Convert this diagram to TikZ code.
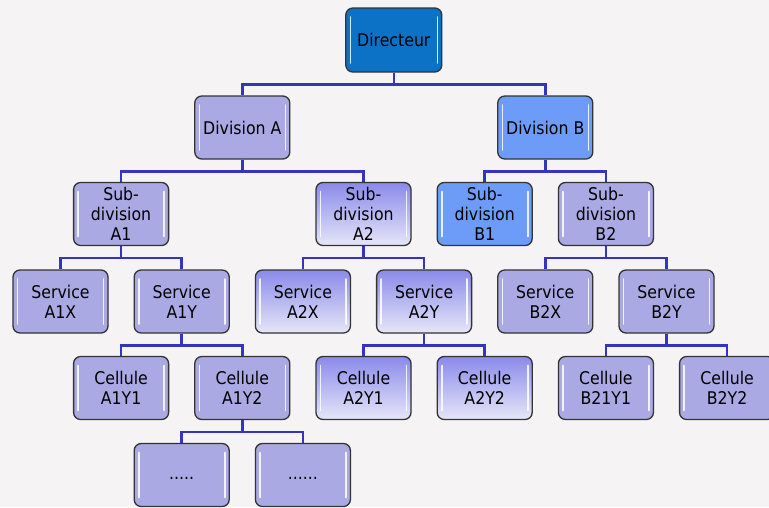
\documentclass[tikz,border=0pt]{standalone}
\usepackage{fontspec}
\setmainfont{DejaVu Sans Condensed}
\definecolor{bg}{HTML}{F5F3F3}
\definecolor{lav}{HTML}{ABA9E3}
\definecolor{dirblue}{HTML}{0B72C6}
\definecolor{lightblue}{HTML}{6C9CF8}
\definecolor{wire}{HTML}{3434BE}
\definecolor{rim}{HTML}{333333}
\definecolor{gradtop}{HTML}{8A8AEA}
\definecolor{gradbot}{HTML}{E6E6F8}
\tikzset{
  box/.style={draw=rim, line width=1.3pt, rounded corners=7pt,
    minimum width=95pt, minimum height=63pt, inner sep=0pt, align=center,
    font=\fontsize{17.5}{20}\selectfont, fill=lav,
    path picture={
      \draw[white, line width=1.6pt, opacity=.85, line cap=round]
        ([xshift=4.5pt,yshift=-9pt]path picture bounding box.north west) --
        ([xshift=4.5pt,yshift=9pt]path picture bounding box.south west);
      \draw[white, line width=1.6pt, opacity=.85, line cap=round]
        ([xshift=-4.5pt,yshift=-9pt]path picture bounding box.north east) --
        ([xshift=-4.5pt,yshift=9pt]path picture bounding box.south east);
    }},
  gradbox/.style={box, top color=gradtop, bottom color=gradbot},
  bluebox/.style={box, fill=lightblue},
  dirbox/.style={box, fill=dirblue, minimum width=96pt, minimum height=64pt},
  wirestyle/.style={draw=wire, line width=2.6pt},
}
\begin{document}
\begin{tikzpicture}[x=1pt,y=-1pt]
\useasboundingbox (0,0) rectangle (769,507);
\clip (0,0) rectangle (769,507);
\fill[bg] (0,0) rectangle (769,507);
% level 0
\node[dirbox] (dir) at (393.8,40) {Directeur};
% level 1
\node[box] (divA) at (242.3,127.5) {Division A};
\node[bluebox] (divB) at (545.3,127.5) {Division B};
% level 2
\node[box] (sA1) at (121.1,214) {Sub-\\division\\A1};
\node[gradbox] (sA2) at (363.5,214) {Sub-\\division\\A2};
\node[bluebox] (sB1) at (484.7,214) {Sub-\\division\\B1};
\node[box] (sB2) at (605.9,214) {Sub-\\division\\B2};
% level 3
\node[box] (vA1X) at (60.5,301.5) {Service\\A1X};
\node[box] (vA1Y) at (181.7,301.5) {Service\\A1Y};
\node[gradbox] (vA2X) at (302.9,301.5) {Service\\A2X};
\node[gradbox] (vA2Y) at (424.1,301.5) {Service\\A2Y};
\node[box] (vB2X) at (545.3,301.5) {Service\\B2X};
\node[box] (vB2Y) at (666.5,301.5) {Service\\B2Y};
% level 4
\node[box] (cA1Y1) at (121.1,388) {Cellule\\A1Y1};
\node[box] (cA1Y2) at (242.3,388) {Cellule\\A1Y2};
\node[gradbox] (cA2Y1) at (363.5,388) {Cellule\\A2Y1};
\node[gradbox] (cA2Y2) at (484.7,388) {Cellule\\A2Y2};
\node[box] (cB2Y1) at (605.9,388) {Cellule\\B21Y1};
\node[box] (cB2Y2) at (727.1,388) {Cellule\\B2Y2};
% level 5
\node[box] (d1) at (181.7,475) {\strut.....};
\node[box] (d2) at (302.9,475) {\strut......};
% connectors
\foreach \p/\c in {dir/divA, dir/divB,
  divA/sA1, divA/sA2, divB/sB1, divB/sB2,
  sA1/vA1X, sA1/vA1Y, sA2/vA2X, sA2/vA2Y, sB2/vB2X, sB2/vB2Y,
  vA1Y/cA1Y1, vA1Y/cA1Y2, vA2Y/cA2Y1, vA2Y/cA2Y2, vB2Y/cB2Y1, vB2Y/cB2Y2,
  cA1Y2/d1, cA1Y2/d2}
  \draw[wirestyle] (\p.south) -- ++(0,12) -| (\c.north);
\end{tikzpicture}
\end{document}
